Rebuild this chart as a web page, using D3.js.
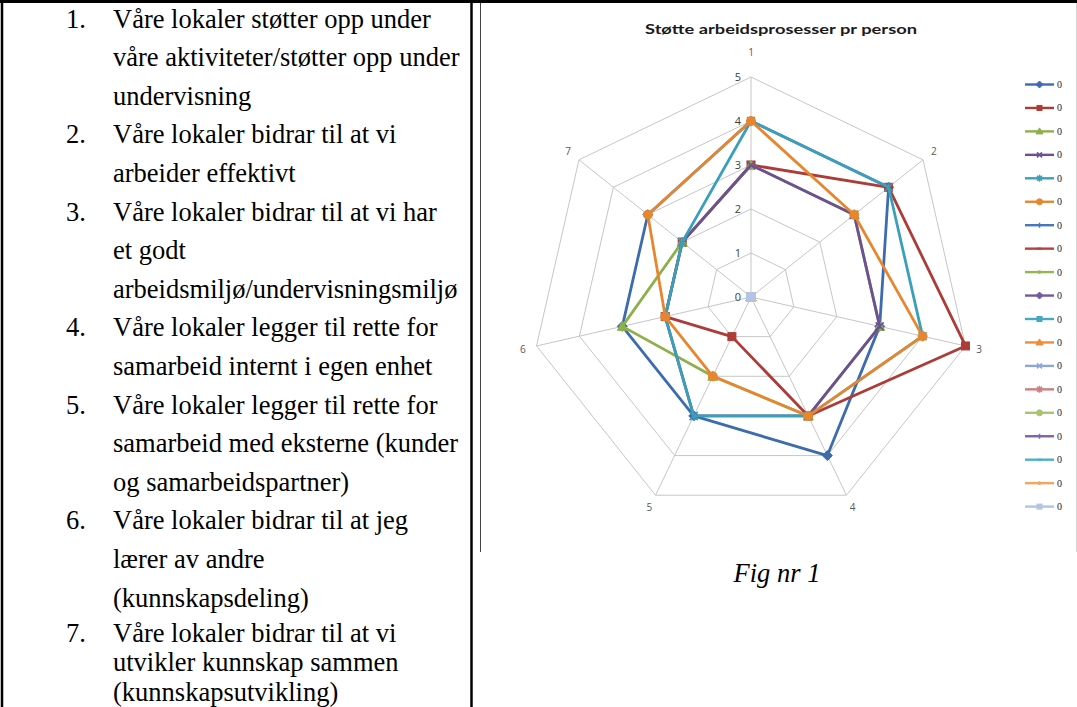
<!DOCTYPE html>
<html>
<head>
<meta charset="utf-8">
<script src="https://cdnjs.cloudflare.com/ajax/libs/d3/7.8.5/d3.min.js"></script>
<style>
  html, body { margin: 0; padding: 0; background: #fff; }
  svg { display: block; }
</style>
</head>
<body>
<svg id="page" width="1077" height="707"></svg>
<script>
// ---- statements (left column) ----
const statementNumbers = ["1.", "2.", "3.", "4.", "5.", "6.", "7."];
const statementLines = [
  ["Våre lokaler støtter opp under", "våre aktiviteter/støtter opp under", "undervisning"],
  ["Våre lokaler bidrar til at vi", "arbeider effektivt"],
  ["Våre lokaler bidrar til at vi har", "et godt", "arbeidsmiljø/undervisningsmiljø"],
  ["Våre lokaler legger til rette for", "samarbeid internt i egen enhet"],
  ["Våre lokaler legger til rette for", "samarbeid med eksterne (kunder", "og samarbeidspartner)"],
  ["Våre lokaler bidrar til at jeg", "lærer av andre", "(kunnskapsdeling)"],
  ["Våre lokaler bidrar til at vi", "utvikler kunnskap sammen", "(kunnskapsutvikling)"]
];

// ---- radar chart data ----
const chartTitle = "Støtte arbeidsprosesser pr person";
const axisLabels = ["1", "2", "3", "4", "5", "6", "7"];
const tickValues = [0, 1, 2, 3, 4, 5];
const seriesNames = ["0","0","0","0","0","0","0","0","0","0","0","0","0","0","0","0","0","0","0"];
const s1  = [4, 4, 3, 4, 3, 3, 3];
const s2  = [3, 4, 5, 3, 1, 2, 2];
const s3  = [3, 3, 3, 3, 2, 3, 2];
const s4  = [3, 3, 3, 3, 3, 2, 2];
const s5  = [4, 4, 4, 3, 3, 2, 2];
const s6  = [4, 3, 4, 3, 2, 2, 3];
const s7  = [0, 0, 0, 0, 0, 0, 0];
const s8  = [0, 0, 0, 0, 0, 0, 0];
const s9  = [0, 0, 0, 0, 0, 0, 0];
const s10 = [0, 0, 0, 0, 0, 0, 0];
const s11 = [0, 0, 0, 0, 0, 0, 0];
const s12 = [0, 0, 0, 0, 0, 0, 0];
const s13 = [0, 0, 0, 0, 0, 0, 0];
const s14 = [0, 0, 0, 0, 0, 0, 0];
const s15 = [0, 0, 0, 0, 0, 0, 0];
const s16 = [0, 0, 0, 0, 0, 0, 0];
const s17 = [0, 0, 0, 0, 0, 0, 0];
const s18 = [0, 0, 0, 0, 0, 0, 0];
const s19 = [0, 0, 0, 0, 0, 0, 0];
const seriesValues = [s1,s2,s3,s4,s5,s6,s7,s8,s9,s10,s11,s12,s13,s14,s15,s16,s17,s18,s19];

const seriesColors = [
  "#3d6cae", "#ad3c38", "#8db04b", "#6d4f95", "#3a9fba", "#e8862f",
  "#4677be", "#b8403d", "#93b656", "#7459a0", "#45a8c4", "#ee8c39",
  "#8ea6d5", "#cd7f7d", "#a9c473", "#7f63a6", "#4db0c9", "#f4a460",
  "#b3c3e3"
];
const markerTypes = [
  "diamond", "square", "triangle", "x", "star", "circle",
  "plus", "dash", "dot", "diamond", "square", "triangle",
  "x", "star", "circle", "plus", "dash", "dot", "square"
];

const svg = d3.select("#page");

// ---- table frame ----
const frame = svg.append("g").attr("stroke", "#000").attr("fill", "none");
frame.append("line").attr("x1", 0).attr("x2", 1077).attr("y1", 1.5).attr("y2", 1.5).attr("stroke-width", 3);
frame.append("line").attr("x1", 2).attr("x2", 2).attr("y1", 0).attr("y2", 707).attr("stroke-width", 2.5);
frame.append("line").attr("x1", 471.5).attr("x2", 471.5).attr("y1", 0).attr("y2", 707).attr("stroke-width", 2.5);

// ---- statements ----
const textG = svg.append("g")
  .attr("font-family", "'Liberation Serif', 'Times New Roman', serif")
  .attr("font-size", 26.5)
  .attr("fill", "#000");
let lineIdx = 0;
statementLines.forEach((lines, i) => {
  lines.forEach((ln, j) => {
    let y;
    if (i === statementLines.length - 1) {
      // the last item is set with tighter leading
      y = 641.5 + j * 29.5;
    } else {
      y = 27.5 + lineIdx * 38.6;
    }
    if (j === 0) {
      textG.append("text").attr("x", 66).attr("y", y).text(statementNumbers[i]);
    }
    textG.append("text").attr("x", 113).attr("y", y).text(ln);
    lineIdx++;
  });
});

// ---- chart area ----
const chartX0 = 480, chartX1 = 1076, chartY0 = 3, chartY1 = 552;
svg.append("line").attr("x1", chartX0 + 0.5).attr("x2", chartX0 + 0.5)
  .attr("y1", chartY0).attr("y2", chartY1).attr("stroke", "#444").attr("stroke-width", 1);
svg.append("line").attr("x1", chartX1 + 0.5).attr("x2", chartX1 + 0.5)
  .attr("y1", chartY0).attr("y2", chartY1).attr("stroke", "#d4d4d4").attr("stroke-width", 1);

svg.append("text")
  .attr("x", (chartX0 + chartX1) / 2 + 3).attr("y", 34)
  .attr("text-anchor", "middle")
  .attr("font-family", "Lato, 'Open Sans', sans-serif")
  .attr("font-weight", "bold").attr("font-size", 14)
  .attr("fill", "#1a1a1a")
  .attr("textLength", 272).attr("lengthAdjust", "spacingAndGlyphs")
  .text(chartTitle);

const cx = 751, cy = 297;
const r = d3.scaleLinear().domain([0, 5]).range([0, 220]);
const step = 2 * Math.PI / axisLabels.length;
const ang = i => i * step;
const px = (i, v) => cx + Math.sin(ang(i)) * r(v);
const py = (i, v) => cy - Math.cos(ang(i)) * r(v);

const grid = svg.append("g").attr("fill", "none").attr("stroke", "#c6c6c6").attr("stroke-width", 1);
tickValues.filter(t => t > 0).forEach(t => {
  const pts = axisLabels.map((_, i) => [px(i, t), py(i, t)]);
  grid.append("path").attr("d", d3.line()(pts) + "Z");
});
axisLabels.forEach((_, i) => {
  grid.append("line").attr("x1", cx).attr("y1", cy).attr("x2", px(i, 5)).attr("y2", py(i, 5));
});

// tick labels along the first axis
svg.append("g").selectAll("text").data(tickValues).join("text")
  .attr("x", cx - 10).attr("y", d => cy - r(d))
  .attr("dy", "0.35em").attr("text-anchor", "end")
  .attr("font-family", "'Open Sans', sans-serif").attr("font-size", 11)
  .attr("fill", "#404040")
  .text(d => d);

// axis category labels
svg.append("g").selectAll("text").data(axisLabels).join("text")
  .attr("x", (d, i) => cx + Math.sin(ang(i)) * (r(5) + 14))
  .attr("y", (d, i) => cy - Math.cos(ang(i)) * (r(5) + 14) - (Math.cos(ang(i)) > 0.95 ? 11 : 0))
  .attr("dy", "0.35em").attr("text-anchor", "middle")
  .attr("font-family", "'Open Sans', sans-serif").attr("font-size", 10)
  .attr("fill", "#595959")
  .text(d => d);

// marker drawing
function drawMarker(g, type, x, y, color, s) {
  const h = s / 2;
  switch (type) {
    case "diamond":
      g.append("path").attr("d", `M${x},${y - h - 1}L${x + h + 1},${y}L${x},${y + h + 1}L${x - h - 1},${y}Z`)
        .attr("fill", color).attr("stroke", color);
      break;
    case "square":
      g.append("rect").attr("x", x - h).attr("y", y - h).attr("width", s).attr("height", s)
        .attr("fill", color).attr("stroke", color).attr("stroke-width", 1);
      break;
    case "triangle":
      g.append("path").attr("d", `M${x},${y - h - 1}L${x + h + 1},${y + h}L${x - h - 1},${y + h}Z`)
        .attr("fill", color).attr("stroke", color);
      break;
    case "circle":
      g.append("circle").attr("cx", x).attr("cy", y).attr("r", h + 0.5)
        .attr("fill", color).attr("stroke", color);
      break;
    case "dot":
      g.append("circle").attr("cx", x).attr("cy", y).attr("r", 1.8).attr("fill", color);
      break;
    case "x":
      g.append("path").attr("d", `M${x - h},${y - h}L${x + h},${y + h}M${x - h},${y + h}L${x + h},${y - h}`)
        .attr("stroke", color).attr("stroke-width", 1.5).attr("fill", "none");
      break;
    case "star":
      g.append("path").attr("d", `M${x - h},${y - h}L${x + h},${y + h}M${x - h},${y + h}L${x + h},${y - h}M${x},${y - h - 1}L${x},${y + h + 1}`)
        .attr("stroke", color).attr("stroke-width", 1.5).attr("fill", "none");
      break;
    case "plus":
      g.append("path").attr("d", `M${x - h},${y}L${x + h},${y}M${x},${y - h}L${x},${y + h}`)
        .attr("stroke", color).attr("stroke-width", 1.5).attr("fill", "none");
      break;
    case "dash":
      g.append("path").attr("d", `M${x - h},${y}L${x + h},${y}`)
        .attr("stroke", color).attr("stroke-width", 2).attr("fill", "none");
      break;
  }
}

// series: line then markers, one series after the other
const plot = svg.append("g");
seriesValues.forEach((vals, si) => {
  const g = plot.append("g");
  const pts = vals.map((v, i) => [px(i, v), py(i, v)]);
  g.append("path").attr("d", d3.line()(pts) + "Z")
    .attr("fill", "none").attr("stroke", seriesColors[si])
    .attr("stroke-width", 2.8).attr("stroke-linejoin", "round");
  vals.forEach((v, i) => drawMarker(g, markerTypes[si], px(i, v), py(i, v), seriesColors[si], 8));
});

// legend
const legend = svg.append("g");
const legY0 = 84.5, legStep = 23.45;
seriesNames.forEach((name, si) => {
  const y = legY0 + si * legStep;
  const g = legend.append("g");
  g.append("line").attr("x1", 1025).attr("x2", 1054).attr("y1", y).attr("y2", y)
    .attr("stroke", seriesColors[si]).attr("stroke-width", 2.4);
  drawMarker(g, markerTypes[si], 1039.5, y, seriesColors[si], 5);
  g.append("text").attr("x", 1057).attr("y", y).attr("dy", "0.35em")
    .attr("font-family", "'Liberation Serif', serif").attr("font-size", 10)
    .attr("fill", "#222").text(name);
});

// caption
svg.append("text")
  .attr("x", 777).attr("y", 582)
  .attr("text-anchor", "middle")
  .attr("font-family", "'Liberation Serif', 'Times New Roman', serif")
  .attr("font-style", "italic").attr("font-size", 26.5)
  .attr("fill", "#000")
  .text("Fig nr 1");
</script>
</body>
</html>
